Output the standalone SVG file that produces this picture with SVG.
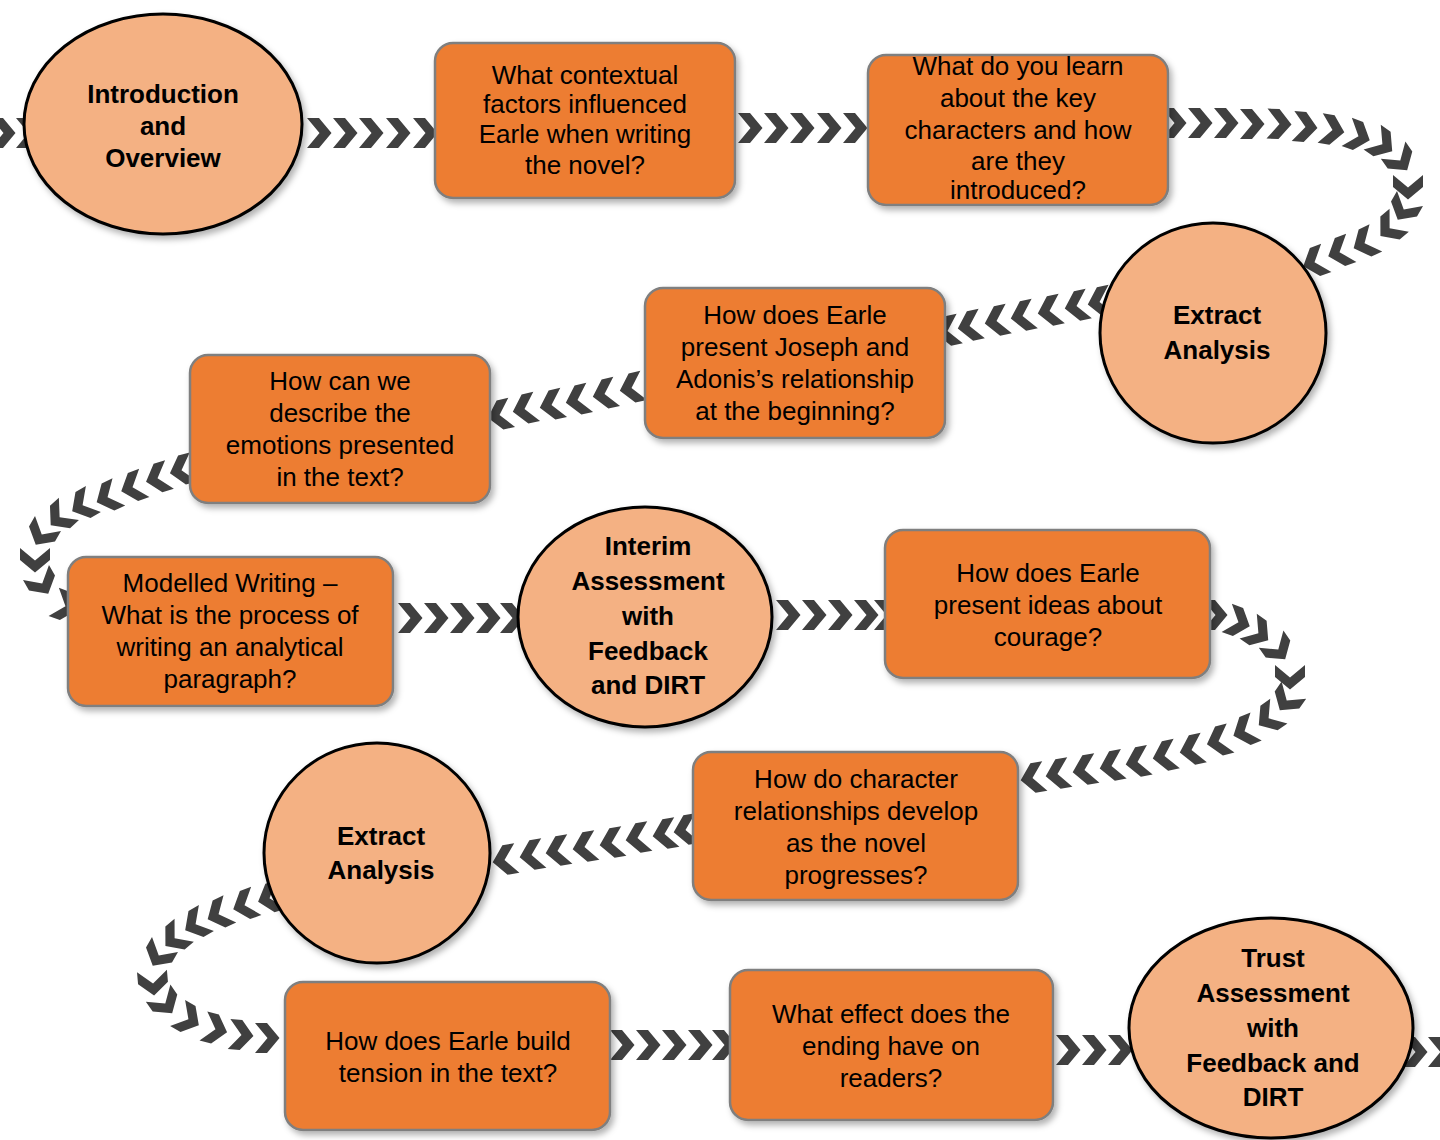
<svg xmlns="http://www.w3.org/2000/svg" xmlns:xlink="http://www.w3.org/1999/xlink" width="1440" height="1140" viewBox="0 0 1440 1140">
<defs>
<style>
.box{fill:#ED7D31;stroke:#7F7F7F;stroke-width:2.5;filter:url(#sh)}
.circ{fill:#F4B183;stroke:#000;stroke-width:3;filter:url(#sh)}
.t{font-family:"Liberation Sans",Arial,sans-serif;font-size:26px;fill:#000;text-anchor:middle}
.b{font-family:"Liberation Sans",Arial,sans-serif;font-size:26px;font-weight:bold;fill:#000;text-anchor:middle}
.chev{fill:#404040}
</style>
<filter id="sh" x="-10%" y="-10%" width="125%" height="130%">
<feDropShadow dx="3" dy="4" stdDeviation="3" flood-color="#000" flood-opacity="0.3"/>
</filter>
<path id="c" class="chev" d="M-12,-15 L0,-15 L12.5,0 L0,15 L-12,15 L0.5,0 Z"/>
</defs>
<rect width="1440" height="1140" fill="#fff"/>
<g id="connectors">
<use href="#c" transform="translate(3 133)"/>
<use href="#c" transform="translate(28 133)"/>
<use href="#c" transform="translate(319 133)"/>
<use href="#c" transform="translate(345 133)"/>
<use href="#c" transform="translate(371 133)"/>
<use href="#c" transform="translate(398 133)"/>
<use href="#c" transform="translate(425 133)"/>
<use href="#c" transform="translate(750 128)"/>
<use href="#c" transform="translate(776 128)"/>
<use href="#c" transform="translate(802 128)"/>
<use href="#c" transform="translate(829 128)"/>
<use href="#c" transform="translate(855 128)"/>
<use href="#c" transform="translate(1174 123)"/>
<use href="#c" transform="translate(1200 123)"/>
<use href="#c" transform="translate(1226 123)"/>
<use href="#c" transform="translate(1252 124)"/>
<use href="#c" transform="translate(1279 124) rotate(2)"/>
<use href="#c" transform="translate(1305 127) rotate(5)"/>
<use href="#c" transform="translate(1332 130) rotate(10)"/>
<use href="#c" transform="translate(1358 136) rotate(20)"/>
<use href="#c" transform="translate(1382 144) rotate(35)"/>
<use href="#c" transform="translate(1400 160) rotate(55)"/>
<use href="#c" transform="translate(1408 187) rotate(90)"/>
<use href="#c" transform="translate(1404 209) rotate(120)"/>
<use href="#c" transform="translate(1390 228) rotate(140)"/>
<use href="#c" transform="translate(1365 243) rotate(155)"/>
<use href="#c" transform="translate(1340 252) rotate(160)"/>
<use href="#c" transform="translate(1315 262) rotate(160)"/>
<use href="#c" transform="translate(1100 302) rotate(168)"/>
<use href="#c" transform="translate(1077 306) rotate(168)"/>
<use href="#c" transform="translate(1050 311) rotate(168)"/>
<use href="#c" transform="translate(1023 316) rotate(168)"/>
<use href="#c" transform="translate(997 321) rotate(168)"/>
<use href="#c" transform="translate(970 326) rotate(168)"/>
<use href="#c" transform="translate(948 331) rotate(168)"/>
<use href="#c" transform="translate(632 388) rotate(167)"/>
<use href="#c" transform="translate(605 394) rotate(167)"/>
<use href="#c" transform="translate(578 400) rotate(167)"/>
<use href="#c" transform="translate(552 405) rotate(167)"/>
<use href="#c" transform="translate(525 409) rotate(167)"/>
<use href="#c" transform="translate(500 415) rotate(167)"/>
<use href="#c" transform="translate(182 470) rotate(165)"/>
<use href="#c" transform="translate(158 478) rotate(163)"/>
<use href="#c" transform="translate(133 487) rotate(160)"/>
<use href="#c" transform="translate(108 497) rotate(155)"/>
<use href="#c" transform="translate(83 505) rotate(150)"/>
<use href="#c" transform="translate(60 517) rotate(138)"/>
<use href="#c" transform="translate(42 534) rotate(120)"/>
<use href="#c" transform="translate(35 560) rotate(90)"/>
<use href="#c" transform="translate(42 583) rotate(60)"/>
<use href="#c" transform="translate(65 606) rotate(20)"/>
<use href="#c" transform="translate(410 618)"/>
<use href="#c" transform="translate(436 618)"/>
<use href="#c" transform="translate(462 618)"/>
<use href="#c" transform="translate(488 618)"/>
<use href="#c" transform="translate(512 618)"/>
<use href="#c" transform="translate(788 615)"/>
<use href="#c" transform="translate(814 615)"/>
<use href="#c" transform="translate(840 615)"/>
<use href="#c" transform="translate(866 615)"/>
<use href="#c" transform="translate(886 615)"/>
<use href="#c" transform="translate(1215 615)"/>
<use href="#c" transform="translate(1238 622) rotate(20)"/>
<use href="#c" transform="translate(1258 633) rotate(35)"/>
<use href="#c" transform="translate(1278 649) rotate(55)"/>
<use href="#c" transform="translate(1290 677) rotate(90)"/>
<use href="#c" transform="translate(1287 700) rotate(125)"/>
<use href="#c" transform="translate(1269 718) rotate(145)"/>
<use href="#c" transform="translate(1245 731) rotate(158)"/>
<use href="#c" transform="translate(1219 741) rotate(165)"/>
<use href="#c" transform="translate(1192 750) rotate(168)"/>
<use href="#c" transform="translate(1165 756) rotate(168)"/>
<use href="#c" transform="translate(1138 762) rotate(169)"/>
<use href="#c" transform="translate(1112 766) rotate(169)"/>
<use href="#c" transform="translate(1085 770) rotate(170)"/>
<use href="#c" transform="translate(1058 774) rotate(170)"/>
<use href="#c" transform="translate(1033 778) rotate(170)"/>
<use href="#c" transform="translate(686 830) rotate(170)"/>
<use href="#c" transform="translate(665 834) rotate(170)"/>
<use href="#c" transform="translate(638 838) rotate(170)"/>
<use href="#c" transform="translate(612 843) rotate(170)"/>
<use href="#c" transform="translate(585 847) rotate(170)"/>
<use href="#c" transform="translate(558 851) rotate(170)"/>
<use href="#c" transform="translate(532 855) rotate(170)"/>
<use href="#c" transform="translate(505 860) rotate(170)"/>
<use href="#c" transform="translate(270 898) rotate(162)"/>
<use href="#c" transform="translate(245 905) rotate(160)"/>
<use href="#c" transform="translate(219 914) rotate(155)"/>
<use href="#c" transform="translate(196 924) rotate(150)"/>
<use href="#c" transform="translate(175 938) rotate(140)"/>
<use href="#c" transform="translate(159 955) rotate(120)"/>
<use href="#c" transform="translate(153 983) rotate(85)"/>
<use href="#c" transform="translate(165 1003) rotate(55)"/>
<use href="#c" transform="translate(188 1019) rotate(30)"/>
<use href="#c" transform="translate(215 1029) rotate(15)"/>
<use href="#c" transform="translate(241 1035) rotate(5)"/>
<use href="#c" transform="translate(267 1038)"/>
<use href="#c" transform="translate(622 1045)"/>
<use href="#c" transform="translate(648 1045)"/>
<use href="#c" transform="translate(674 1045)"/>
<use href="#c" transform="translate(700 1045)"/>
<use href="#c" transform="translate(724 1045)"/>
<use href="#c" transform="translate(1068 1050)"/>
<use href="#c" transform="translate(1094 1050)"/>
<use href="#c" transform="translate(1120 1050)"/>
<use href="#c" transform="translate(1415 1052)"/>
<use href="#c" transform="translate(1440 1052)"/>
</g>

<g id="intro">
<ellipse class="circ" cx="163" cy="124" rx="139" ry="110"/>
<text class="b" x="163" y="103">Introduction</text>
<text class="b" x="163" y="135">and</text>
<text class="b" x="163" y="167">Overview</text>
</g>
<g id="contextual">
<rect class="box" x="435" y="43" width="300" height="155" rx="18"/>
<text class="t" x="585" y="84">What contextual</text>
<text class="t" x="585" y="113">factors influenced</text>
<text class="t" x="585" y="143">Earle when writing</text>
<text class="t" x="585" y="174">the novel?</text>
</g>
<g id="characters">
<rect class="box" x="868" y="55" width="300" height="150" rx="18"/>
<text class="t" x="1018" y="75">What do you learn</text>
<text class="t" x="1018" y="107">about the key</text>
<text class="t" x="1018" y="139">characters and how</text>
<text class="t" x="1018" y="170">are they</text>
<text class="t" x="1018" y="199">introduced?</text>
</g>
<g id="extract1">
<ellipse class="circ" cx="1213" cy="333" rx="113" ry="110"/>
<text class="b" x="1217" y="324">Extract</text>
<text class="b" x="1217" y="359">Analysis</text>
</g>
<g id="joseph">
<rect class="box" x="645" y="288" width="300" height="150" rx="18"/>
<text class="t" x="795" y="324">How does Earle</text>
<text class="t" x="795" y="356">present Joseph and</text>
<text class="t" x="795" y="388">Adonis’s relationship</text>
<text class="t" x="795" y="420">at the beginning?</text>
</g>
<g id="emotions">
<rect class="box" x="190" y="355" width="300" height="148" rx="18"/>
<text class="t" x="340" y="390">How can we</text>
<text class="t" x="340" y="422">describe the</text>
<text class="t" x="340" y="454">emotions presented</text>
<text class="t" x="340" y="486">in the text?</text>
</g>
<g id="modelled">
<rect class="box" x="68" y="557" width="325" height="149" rx="18"/>
<text class="t" x="230" y="592">Modelled Writing –</text>
<text class="t" x="230" y="624">What is the process of</text>
<text class="t" x="230" y="656">writing an analytical</text>
<text class="t" x="230" y="688">paragraph?</text>
</g>
<g id="interim">
<ellipse class="circ" cx="645" cy="617" rx="127" ry="110"/>
<text class="b" x="648" y="555">Interim</text>
<text class="b" x="648" y="590">Assessment</text>
<text class="b" x="648" y="625">with</text>
<text class="b" x="648" y="660">Feedback</text>
<text class="b" x="648" y="694">and DIRT</text>
</g>
<g id="courage">
<rect class="box" x="885" y="530" width="325" height="148" rx="18"/>
<text class="t" x="1048" y="582">How does Earle</text>
<text class="t" x="1048" y="614">present ideas about</text>
<text class="t" x="1048" y="646">courage?</text>
</g>
<g id="develop">
<rect class="box" x="693" y="752" width="325" height="148" rx="18"/>
<text class="t" x="856" y="788">How do character</text>
<text class="t" x="856" y="820">relationships develop</text>
<text class="t" x="856" y="852">as the novel</text>
<text class="t" x="856" y="884">progresses?</text>
</g>
<g id="extract2">
<ellipse class="circ" cx="377" cy="853" rx="113" ry="110"/>
<text class="b" x="381" y="845">Extract</text>
<text class="b" x="381" y="879">Analysis</text>
</g>
<g id="tension">
<rect class="box" x="285" y="982" width="325" height="148" rx="18"/>
<text class="t" x="448" y="1050">How does Earle build</text>
<text class="t" x="448" y="1082">tension in the text?</text>
</g>
<g id="ending">
<rect class="box" x="730" y="970" width="323" height="150" rx="18"/>
<text class="t" x="891" y="1023">What effect does the</text>
<text class="t" x="891" y="1055">ending have on</text>
<text class="t" x="891" y="1087">readers?</text>
</g>
<g id="trust">
<ellipse class="circ" cx="1271" cy="1028" rx="142" ry="110"/>
<text class="b" x="1273" y="967">Trust</text>
<text class="b" x="1273" y="1002">Assessment</text>
<text class="b" x="1273" y="1037">with</text>
<text class="b" x="1273" y="1072">Feedback and</text>
<text class="b" x="1273" y="1106">DIRT</text>
</g>
</svg>
